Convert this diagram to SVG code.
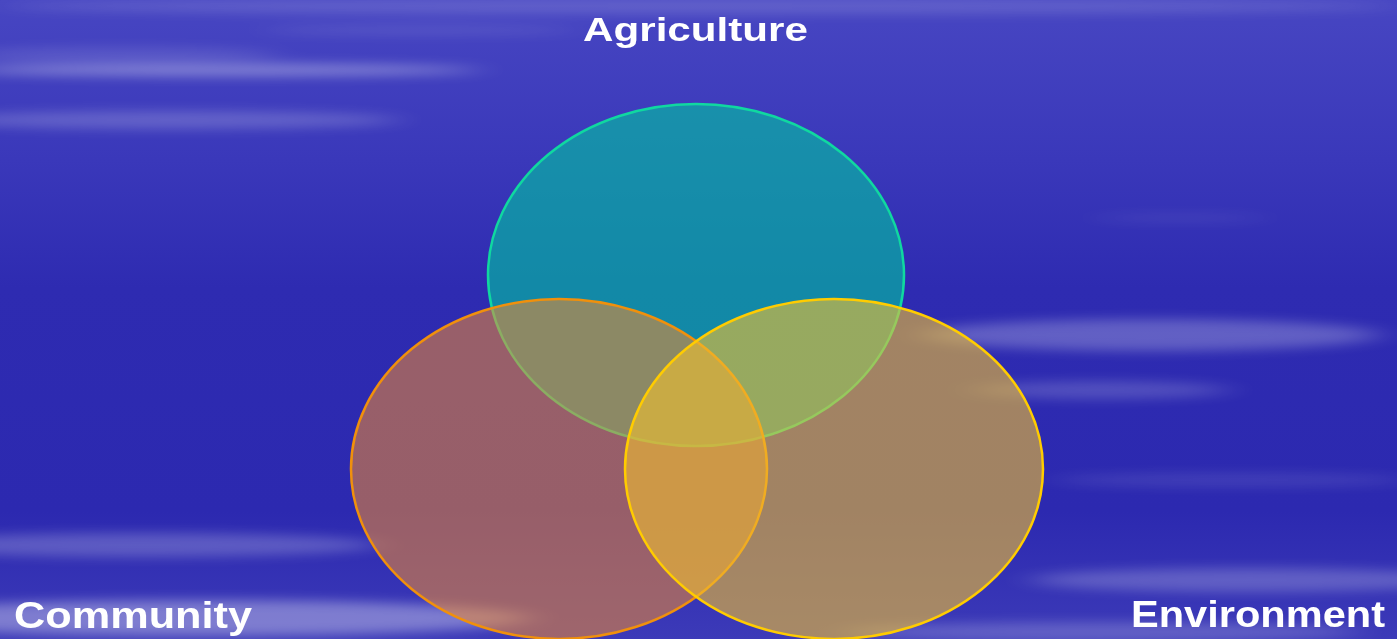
<svg xmlns="http://www.w3.org/2000/svg" width="1397" height="639" viewBox="0 0 1397 639">
<defs>
<linearGradient id="bg" x1="0" y1="0" x2="0" y2="1">
<stop offset="0" stop-color="#4746c2"/>
<stop offset="0.25" stop-color="#3a38ba"/>
<stop offset="0.45" stop-color="#2e2bb1"/>
<stop offset="0.8" stop-color="#2c29b0"/>
<stop offset="1" stop-color="#3c3ab8"/>
</linearGradient>
<filter id="blur" x="-30%" y="-300%" width="160%" height="700%"><feGaussianBlur stdDeviation="18 6"/></filter>
<style>
.lbl{font-family:"Liberation Sans",Arial,sans-serif;font-weight:bold;fill:#ffffff;}
.st{fill:#ffffff;}
</style>
</defs>
<rect width="1397" height="639" fill="url(#bg)"/>
<g id="streaks" filter="url(#blur)">
<ellipse class="st" cx="220" cy="70" rx="260" ry="6" opacity="0.35"/>
<ellipse class="st" cx="120" cy="55" rx="160" ry="8" opacity="0.12"/>
<ellipse class="st" cx="170" cy="120" rx="230" ry="9" opacity="0.2"/>
<ellipse class="st" cx="700" cy="6" rx="700" ry="8" opacity="0.15"/>
<ellipse class="st" cx="420" cy="30" rx="160" ry="5" opacity="0.1"/>
<ellipse class="st" cx="1150" cy="335" rx="230" ry="16" opacity="0.25"/>
<ellipse class="st" cx="1100" cy="390" rx="130" ry="9" opacity="0.18"/>
<ellipse class="st" cx="1230" cy="480" rx="180" ry="7" opacity="0.1"/>
<ellipse class="st" cx="1180" cy="218" rx="90" ry="4" opacity="0.08"/>
<ellipse class="st" cx="140" cy="545" rx="240" ry="12" opacity="0.22"/>
<ellipse class="st" cx="200" cy="618" rx="330" ry="18" opacity="0.35"/>
<ellipse class="st" cx="1250" cy="580" rx="220" ry="12" opacity="0.22"/>
<ellipse class="st" cx="1100" cy="632" rx="260" ry="10" opacity="0.2"/>
</g>
<g id="agriculture">
<ellipse cx="696" cy="275" rx="208" ry="171" fill="#00c8a0" fill-opacity="0.6" stroke="#10d8a0" stroke-width="2.5"/>
</g>
<g id="community">
<ellipse cx="559" cy="469" rx="208" ry="170" fill="#f08a30" fill-opacity="0.55" stroke="#f0900c" stroke-width="2.5"/>
</g>
<g id="environment">
<ellipse cx="834" cy="469" rx="209" ry="170" fill="#f0c030" fill-opacity="0.6" stroke="#ffcc00" stroke-width="2.5"/>
</g>
<g id="connectors"/>
<g id="labels">
<text class="lbl" x="583" y="41" font-size="34" textLength="225" lengthAdjust="spacingAndGlyphs">Agriculture</text>
<text class="lbl" x="14" y="628" font-size="37" textLength="238" lengthAdjust="spacingAndGlyphs">Community</text>
<text class="lbl" x="1131" y="627" font-size="37" textLength="254" lengthAdjust="spacingAndGlyphs">Environment</text>
</g>
</svg>
